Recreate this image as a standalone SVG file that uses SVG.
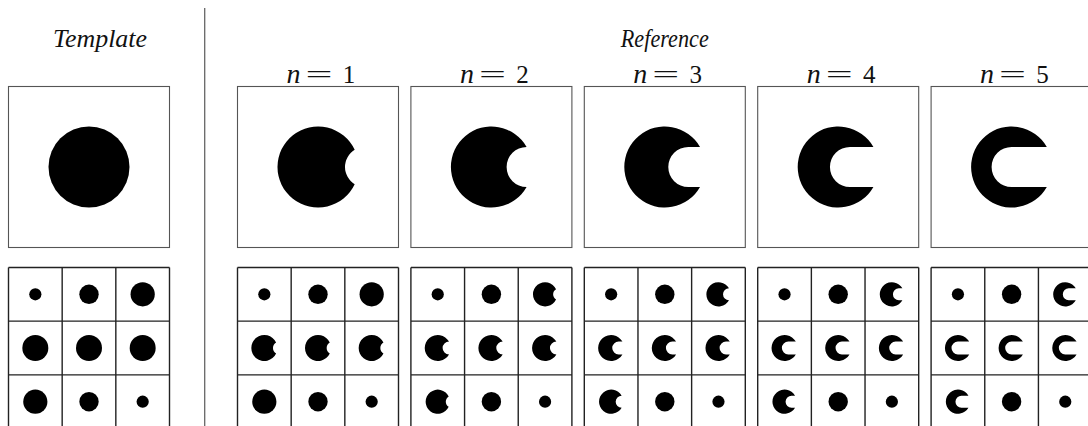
<svg xmlns="http://www.w3.org/2000/svg" xmlns:xlink="http://www.w3.org/1999/xlink" width="1088" height="426" viewBox="0 0 1088 426">
<style>
.box{fill:#fff;stroke:#555;stroke-width:1.1}
.grid{fill:none;stroke:#222;stroke-width:1.4}
.div{stroke:#666;stroke-width:1.3}
.title{font-family:"Liberation Serif",serif;font-style:italic;font-size:26px;fill:#111}
.mi{font-family:"Liberation Serif",serif;font-style:italic;font-size:28px;fill:#111}
.mr{font-family:"Liberation Serif",serif;font-size:25px;fill:#111}
</style>
<defs>
<path id="s1" d="M36.69,-17.14 A40.5,40.5 0 1 0 36.69,17.14 A20,20 0 0 1 36.69,-17.14 Z"/>
<path id="s2" d="M35.22,-20 A40.5,40.5 0 1 0 35.22,20 A20,20 0 0 1 35.22,-20 Z"/>
<path id="s3" d="M35.22,-20 A40.5,40.5 0 1 0 35.22,20 L23.5,20 A20,20 0 0 1 23.5,-20 Z"/>
<path id="s4" d="M35.22,-20 A40.5,40.5 0 1 0 35.22,20 L11.75,20 A20,20 0 0 1 11.75,-20 Z"/>
<path id="s5" d="M35.22,-20 A40.5,40.5 0 1 0 35.22,20 L0,20 A20,20 0 0 1 0,-20 Z"/>
<g id="gridlines">
<path class="grid" d="M0,0 H161 M0,53.67 H161 M0,107.33 H161 M0,0 V159 M53.67,0 V159 M107.33,0 V159 M161,0 V159"/>
</g>
</defs>

<line class="div" x1="204.7" y1="8" x2="204.7" y2="426"/>

<g id="template">
<text class="title" x="100" y="47" text-anchor="middle" textLength="94" lengthAdjust="spacingAndGlyphs">Template</text>
<rect class="box" x="8.5" y="86.5" width="161" height="161"/>
<circle cx="89" cy="167" r="40.5"/>
<g id="template-grid">
<use xlink:href="#gridlines" transform="translate(8.5,267.5)"/>
<circle cx="35.33" cy="294.3" r="6.1"/>
<circle cx="89" cy="294.3" r="9.7"/>
<circle cx="142.67" cy="294.3" r="12.1"/>
<circle cx="35.33" cy="348" r="13"/>
<circle cx="89" cy="348" r="13"/>
<circle cx="142.67" cy="348" r="13"/>
<circle cx="35.33" cy="401.7" r="12.1"/>
<circle cx="89" cy="401.7" r="9.7"/>
<circle cx="142.67" cy="401.7" r="6.1"/>
</g>
</g>

<text id="reference-title" class="title" x="664.8" y="47" text-anchor="middle" textLength="88" lengthAdjust="spacingAndGlyphs">Reference</text>

<g id="ref-n1">
<text class="mi" x="286.5" y="83">n</text>
<text class="mr" x="305.5" y="83" textLength="27" lengthAdjust="spacingAndGlyphs">=</text>
<text class="mr" x="349" y="83" text-anchor="middle">1</text>
<rect class="box" x="237.5" y="86.5" width="161" height="161"/>
<use xlink:href="#s1" transform="translate(318,167)"/>
<use xlink:href="#gridlines" transform="translate(237.5,267.5)"/>
<circle cx="264.33" cy="294.3" r="6.1"/>
<circle cx="318" cy="294.3" r="9.7"/>
<circle cx="371.67" cy="294.3" r="12.1"/>
<use xlink:href="#s1" transform="translate(264.33,348) scale(0.321)"/>
<use xlink:href="#s1" transform="translate(318,348) scale(0.321)"/>
<use xlink:href="#s1" transform="translate(371.67,348) scale(0.321)"/>
<circle cx="264.33" cy="401.7" r="12.1"/>
<circle cx="318" cy="401.7" r="9.7"/>
<circle cx="371.67" cy="401.7" r="6.1"/>
</g>

<g id="ref-n2">
<text class="mi" x="459.9" y="83">n</text>
<text class="mr" x="478.9" y="83" textLength="27" lengthAdjust="spacingAndGlyphs">=</text>
<text class="mr" x="522.4" y="83" text-anchor="middle">2</text>
<rect class="box" x="410.9" y="86.5" width="161" height="161"/>
<use xlink:href="#s2" transform="translate(491.4,167)"/>
<use xlink:href="#gridlines" transform="translate(410.9,267.5)"/>
<circle cx="437.73" cy="294.3" r="6.1"/>
<circle cx="491.4" cy="294.3" r="9.7"/>
<use xlink:href="#s1" transform="translate(545.07,294.3) scale(0.2988)"/>
<use xlink:href="#s2" transform="translate(437.73,348) scale(0.321)"/>
<use xlink:href="#s2" transform="translate(491.4,348) scale(0.321)"/>
<use xlink:href="#s2" transform="translate(545.07,348) scale(0.321)"/>
<use xlink:href="#s1" transform="translate(437.73,401.7) scale(0.2988)"/>
<circle cx="491.4" cy="401.7" r="9.7"/>
<circle cx="545.07" cy="401.7" r="6.1"/>
</g>

<g id="ref-n3">
<text class="mi" x="633.3" y="83">n</text>
<text class="mr" x="652.3" y="83" textLength="27" lengthAdjust="spacingAndGlyphs">=</text>
<text class="mr" x="695.8" y="83" text-anchor="middle">3</text>
<rect class="box" x="584.3" y="86.5" width="161" height="161"/>
<use xlink:href="#s3" transform="translate(664.8,167)"/>
<use xlink:href="#gridlines" transform="translate(584.3,267.5)"/>
<circle cx="611.13" cy="294.3" r="6.1"/>
<circle cx="664.8" cy="294.3" r="9.7"/>
<use xlink:href="#s2" transform="translate(718.47,294.3) scale(0.2988)"/>
<use xlink:href="#s3" transform="translate(611.13,348) scale(0.321)"/>
<use xlink:href="#s3" transform="translate(664.8,348) scale(0.321)"/>
<use xlink:href="#s3" transform="translate(718.47,348) scale(0.321)"/>
<use xlink:href="#s2" transform="translate(611.13,401.7) scale(0.2988)"/>
<circle cx="664.8" cy="401.7" r="9.7"/>
<circle cx="718.47" cy="401.7" r="6.1"/>
</g>

<g id="ref-n4">
<text class="mi" x="806.7" y="83">n</text>
<text class="mr" x="825.7" y="83" textLength="27" lengthAdjust="spacingAndGlyphs">=</text>
<text class="mr" x="869.2" y="83" text-anchor="middle">4</text>
<rect class="box" x="757.7" y="86.5" width="161" height="161"/>
<use xlink:href="#s4" transform="translate(838.2,167)"/>
<use xlink:href="#gridlines" transform="translate(757.7,267.5)"/>
<circle cx="784.53" cy="294.3" r="6.1"/>
<circle cx="838.2" cy="294.3" r="9.7"/>
<use xlink:href="#s3" transform="translate(891.87,294.3) scale(0.2988)"/>
<use xlink:href="#s4" transform="translate(784.53,348) scale(0.321)"/>
<use xlink:href="#s4" transform="translate(838.2,348) scale(0.321)"/>
<use xlink:href="#s4" transform="translate(891.87,348) scale(0.321)"/>
<use xlink:href="#s3" transform="translate(784.53,401.7) scale(0.2988)"/>
<circle cx="838.2" cy="401.7" r="9.7"/>
<circle cx="891.87" cy="401.7" r="6.1"/>
</g>

<g id="ref-n5">
<text class="mi" x="980.1" y="83">n</text>
<text class="mr" x="999.1" y="83" textLength="27" lengthAdjust="spacingAndGlyphs">=</text>
<text class="mr" x="1042.6" y="83" text-anchor="middle">5</text>
<rect class="box" x="931.1" y="86.5" width="161" height="161"/>
<use xlink:href="#s5" transform="translate(1011.6,167)"/>
<use xlink:href="#gridlines" transform="translate(931.1,267.5)"/>
<circle cx="957.93" cy="294.3" r="6.1"/>
<circle cx="1011.6" cy="294.3" r="9.7"/>
<use xlink:href="#s4" transform="translate(1065.27,294.3) scale(0.2988)"/>
<use xlink:href="#s5" transform="translate(957.93,348) scale(0.321)"/>
<use xlink:href="#s5" transform="translate(1011.6,348) scale(0.321)"/>
<use xlink:href="#s5" transform="translate(1065.27,348) scale(0.321)"/>
<use xlink:href="#s4" transform="translate(957.93,401.7) scale(0.2988)"/>
<circle cx="1011.6" cy="401.7" r="9.7"/>
<circle cx="1065.27" cy="401.7" r="6.1"/>
</g>
</svg>
